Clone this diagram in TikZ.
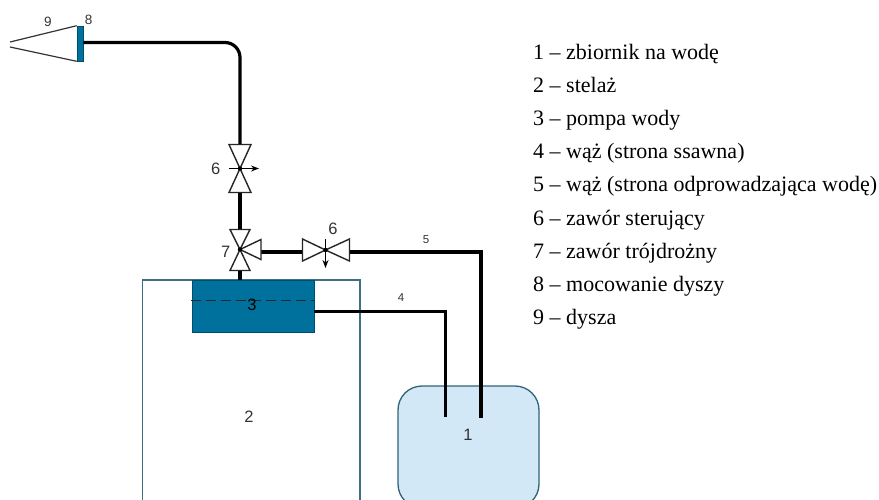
\documentclass[tikz,border=0pt]{standalone}
\usepackage{fontspec}
\setmainfont{Liberation Serif}
\newfontfamily\lblfont{Liberation Sans}
\usetikzlibrary{arrows.meta,calc}
\definecolor{pumpblue}{HTML}{00709C}
\definecolor{framecol}{HTML}{3F6F82}
\definecolor{tankfill}{HTML}{D2E8F6}
\definecolor{tankedge}{HTML}{2F6478}
\definecolor{lblcol}{HTML}{333333}
\tikzset{
  pipe/.style={line width=3.2pt,draw=black,line cap=butt},
  valvetri/.style={draw=black!85,line width=1.4pt,fill=white,line join=miter},
  stem/.style={draw=black,line width=1.7pt,-{Stealth[length=8pt,width=6pt]}},
  lblbig/.style={font=\lblfont\fontsize{16.5}{18}\selectfont,text=lblcol,inner sep=0pt},
  lblsmall/.style={font=\lblfont\fontsize{11.5}{13}\selectfont,text=lblcol,inner sep=0pt},
  lblbold/.style={font=\lblfont\fontsize{13.5}{15}\selectfont,text=lblcol,inner sep=0pt},
  legend/.style={font=\fontsize{22}{24}\selectfont,anchor=base west,inner sep=0pt,text=black},
}
\begin{document}
\begin{tikzpicture}[x=1pt,y=-1pt]
\useasboundingbox (0,0) rectangle (879,499);
\clip (0,0) rectangle (879,499);
% frame, pump, tank
\draw[framecol,line width=1.1pt] (142.5,520) -- (142.5,280) -- (360,280) -- (360,520);
\node[draw=tankedge,line width=1.3pt,fill=tankfill,rounded corners=24pt,minimum width=141pt,minimum height=122pt,inner sep=0pt] (tank) at (468.5,447) {};
\node[draw=pumpblue!70!black,line width=.8pt,fill=pumpblue,minimum width=122pt,minimum height=52pt,inner sep=0pt] (pump) at (253,306) {};
\node[draw=pumpblue!70!black,line width=.6pt,fill=pumpblue,minimum width=6pt,minimum height=35pt,inner sep=0pt] (mount) at (80,43.5) {};
% named points
\coordinate (vA) at (240,168.5);
\coordinate (vB) at (240,249.5);
\coordinate (vC) at (325.5,250);
\coordinate (bend) at (240,42.5);
\coordinate (hoseFour) at (445,311.5);
\coordinate (hoseFourEnd) at (445,417);
\coordinate (hoseFive) at (481,252);
\coordinate (hoseFiveEnd) at (481,418);
\coordinate (vBright) at (261,252);
\coordinate (vCleft) at (302.5,252);
\coordinate (vCright) at (349.5,252);
\coordinate (nozzleTipA) at (10,42);
\coordinate (nozzleTipB) at (10,47);
% dashed water level
\draw[black!85,line width=.9pt,dash pattern=on 10pt off 5pt] ([xshift=-1pt]pump.west |- 0,300) -- (pump.east |- 0,300);
% pipes
\draw[pipe,rounded corners=15pt] (mount.east |- bend) -- (bend) -- ($(vA)+(0,-24)$);
\draw[pipe] ($(vA)+(0,24)$) -- ($(vB)+(0,-20)$);
\draw[pipe] ($(vB)+(0,21)$) -- (pump.north -| vB);
\draw[pipe] (vBright) -- (vCleft);
\draw[pipe] (vCright) -- (hoseFive) -- (hoseFiveEnd);
\draw[pipe,line width=3pt] (pump.east |- hoseFour) -- (hoseFour) -- (hoseFourEnd);
% nozzle
\draw[black!80,line width=1.2pt] (nozzleTipA) -- (mount.north west);
\draw[black!80,line width=1.2pt] (nozzleTipB) -- (mount.south west);
% valve A (vertical)
\draw[valvetri] (vA) -- ++(-11,-24) -- ++(22,0) -- cycle;
\draw[valvetri] (vA) -- ++(-11,24) -- ++(22,0) -- cycle;
\draw[stem] ($(vA)+(-11,0)$) -- ($(vA)+(19,0)$);
\fill (vA) circle (2.2pt);
% valve B (three-way)
\draw[valvetri] (vB) -- ++(-10,-20) -- ++(20,0) -- cycle;
\draw[valvetri] (vB) -- ++(-10,21) -- ++(20,0) -- cycle;
\draw[valvetri] (vB) -- ++(21,-10) -- ++(0,20) -- cycle;
\fill (vB) circle (2.2pt);
% valve C (horizontal)
\draw[valvetri] (vC) -- ++(-23,-11) -- ++(0,22) -- cycle;
\draw[valvetri] (vC) -- ++(24,-11) -- ++(0,22) -- cycle;
\draw[stem] ($(vC)+(0,-11)$) -- ($(vC)+(0,18)$);
\fill (vC) circle (2.2pt);
% labels
\node[lblbold] (l9) at (48,21.5) {9};
\node[lblbold] (l8) at (88.7,20) {8};
\node[lblbig] (l6a) at (215.7,168.5) {6};
\node[lblbig] (l7) at (225.7,251.5) {7};
\node[lblbig] (l6b) at (333,228.5) {6};
\node[lblsmall] (l5) at (426,240) {5};
\node[lblsmall] (l4) at (401,298) {4};
\node[lblbig,text=black] (l3) at (252,305) {3};
\node[lblbig] (l2) at (249,416.5) {2};
\node[lblbig] (l1) at (468,435) {1};
% legend
\node[legend] (k1) at (533,59.5) {1 – zbiornik na wodę};
\node[legend] (k2) at (533,92.5) {2 – stelaż};
\node[legend] (k3) at (533,125.5) {3 – pompa wody};
\node[legend] (k4) at (533,158.5) {4 – wąż (strona ssawna)};
\node[legend] (k5) at (533,191.5) {5 – wąż (strona odprowadzająca wodę)};
\node[legend] (k6) at (533,225) {6 – zawór sterujący};
\node[legend] (k7) at (533,258) {7 – zawór trójdrożny};
\node[legend] (k8) at (533,291.5) {8 – mocowanie dyszy};
\node[legend] (k9) at (533,324) {9 – dysza};
\end{tikzpicture}
\end{document}
